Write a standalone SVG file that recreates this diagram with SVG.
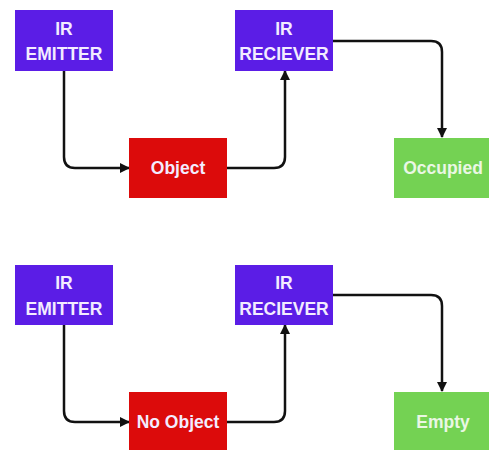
<svg xmlns="http://www.w3.org/2000/svg" width="489" height="450" viewBox="0 0 489 450">
  <style>
    .box-ir { fill: #5b1de6; }
    .box-obj { fill: #dc0b0b; }
    .box-out { fill: #74d253; }
    .label { font-family: "Liberation Sans", Arial, sans-serif; font-weight: bold; font-size: 17.5px; fill: #f3ecff; text-anchor: middle; }
    .label-light { fill: #eaf7e4; }
    .link { fill: none; stroke: #111; stroke-width: 2.5; }
  </style>
  <defs>
    <marker id="arrow" viewBox="0 0 10 10" refX="9" refY="5" markerWidth="4" markerHeight="4" orient="auto" markerUnits="strokeWidth">
      <path d="M0,0 L10,5 L0,10 z" fill="#111"/>
    </marker>
  </defs>
  <rect width="489" height="450" fill="#ffffff"/>

  <!-- connectors -->
  <g id="connectors">
    <!-- top row -->
    <path class="link" marker-end="url(#arrow)" d="M64,71 V157 Q64,168 75,168 H129"/>
    <path class="link" marker-end="url(#arrow)" d="M227,168 H274 Q285,168 285,157 V71"/>
    <path class="link" marker-end="url(#arrow)" d="M333,41 H431 Q442,41 442,52 V137"/>
    <!-- bottom row -->
    <path class="link" marker-end="url(#arrow)" d="M64,325 V411 Q64,422 75,422 H129"/>
    <path class="link" marker-end="url(#arrow)" d="M227,422 H274 Q285,422 285,411 V325"/>
    <path class="link" marker-end="url(#arrow)" d="M333,295 H431 Q442,295 442,306 V391"/>
  </g>

  <!-- top row nodes -->
  <g id="emitter-1">
    <rect class="box-ir" x="15" y="10" width="98" height="61"/>
    <text class="label" x="64" y="35">IR</text>
    <text class="label" x="64" y="60">EMITTER</text>
  </g>
  <g id="receiver-1">
    <rect class="box-ir" x="235" y="10" width="98" height="61"/>
    <text class="label" x="284" y="35">IR</text>
    <text class="label" x="284" y="60">RECIEVER</text>
  </g>
  <g id="object">
    <rect class="box-obj" x="129" y="138" width="98" height="60"/>
    <text class="label" x="178" y="174">Object</text>
  </g>
  <g id="occupied">
    <rect class="box-out" x="394" y="138" width="98" height="60"/>
    <text class="label label-light" x="443" y="174">Occupied</text>
  </g>

  <!-- bottom row nodes -->
  <g id="emitter-2">
    <rect class="box-ir" x="15" y="265" width="98" height="60"/>
    <text class="label" x="64" y="289">IR</text>
    <text class="label" x="64" y="315">EMITTER</text>
  </g>
  <g id="receiver-2">
    <rect class="box-ir" x="235" y="265" width="98" height="60"/>
    <text class="label" x="284" y="289">IR</text>
    <text class="label" x="284" y="315">RECIEVER</text>
  </g>
  <g id="no-object">
    <rect class="box-obj" x="129" y="392" width="98" height="60"/>
    <text class="label" x="178" y="428">No Object</text>
  </g>
  <g id="empty">
    <rect class="box-out" x="394" y="392" width="98" height="60"/>
    <text class="label label-light" x="443" y="428">Empty</text>
  </g>
</svg>
